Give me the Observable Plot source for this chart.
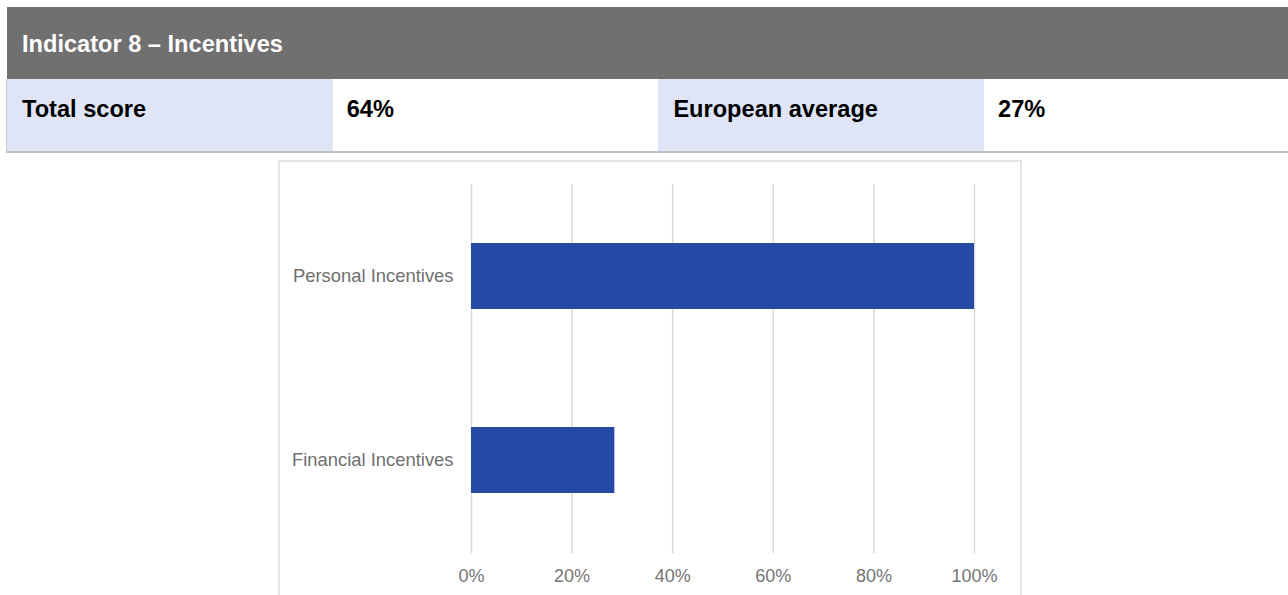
<!DOCTYPE html>
<html><head><meta charset="utf-8">
<script src="https://cdn.jsdelivr.net/npm/d3@7"></script>
<script src="https://cdn.jsdelivr.net/npm/@observablehq/plot@0.6"></script>
<style>
  body{margin:0;width:1288px;height:595px;overflow:hidden;background:#fff;position:relative;font-family:Arial,"Liberation Sans",sans-serif}
  #header{position:absolute;left:7px;top:7px;width:1300px;height:72px;background:#707070;color:#fff;font-weight:bold;font-size:23.6px;line-height:74px;box-sizing:border-box;padding-left:15px}
  #row{position:absolute;left:6px;top:79px;width:1310px;height:74px;border-left:1px solid #c8c8c8;border-bottom:2px solid #c0c0c0;box-sizing:border-box;display:flex}
  .cell{width:325.7px;height:72px;box-sizing:border-box;padding-left:15px;font-weight:bold;font-size:23.6px;line-height:60px;color:#000}
  .lab{background:#dfe5f7}
  .val{background:#fff;padding-left:14px}
  #frame{position:absolute;left:278px;top:160px;width:744px;height:480px;border:2px solid #e4e4e4;box-sizing:border-box}
  #chart{position:absolute;left:279px;top:161px}
</style>
</head><body>
<div id="header"></div>
<div id="row"></div>
<div id="frame"></div>
<div id="chart"></div>
<script>
const title = "Indicator 8 – Incentives";
const summaryLabels = ["Total score", "European average"];
const summaryValues = ["64%", "27%"];
const categories = ["Personal Incentives", "Financial Incentives"];
const values = [100, 28.5];
const xTicks = [0, 20, 40, 60, 80, 100];

document.getElementById("header").textContent = title;
const row = document.getElementById("row");
summaryLabels.forEach((l, i) => {
  const a = document.createElement("div"); a.className = "cell lab"; a.textContent = l; row.appendChild(a);
  const b = document.createElement("div"); b.className = "cell val"; b.textContent = summaryValues[i]; row.appendChild(b);
});

const data = categories.map((c, i) => ({category: c, value: values[i]}));
const fmt = d => d + "%";

const chart = Plot.plot({
  width: 742,
  height: 440,
  marginLeft: 192,
  marginRight: 47,
  marginTop: 23,
  marginBottom: 48,
  style: {fontFamily: 'Arial, "Liberation Sans", sans-serif', fontSize: "18px", color: "#757575", background: "transparent", overflow: "visible"},
  x: {domain: [0, 100], ticks: xTicks, tickFormat: fmt, label: null},
  y: {domain: categories, paddingInner: 0.64, paddingOuter: 0.32, label: null},
  marks: [
    Plot.gridX(xTicks, {stroke: "#d9d9d9", strokeOpacity: 1, strokeWidth: 1.5}),
    Plot.barX(data, {x: "value", y: "category", fill: "#254aa5"}),
    Plot.axisX(xTicks, {tickSize: 0, tickPadding: 16, tickFormat: fmt, label: null, fill: "#757575"}),
    Plot.axisY({tickSize: 0, tickPadding: 18, label: null, fill: "#6f6f6f", fontSize: 18.4})
  ]
});
document.getElementById("chart").appendChild(chart);
</script>
</body></html>
